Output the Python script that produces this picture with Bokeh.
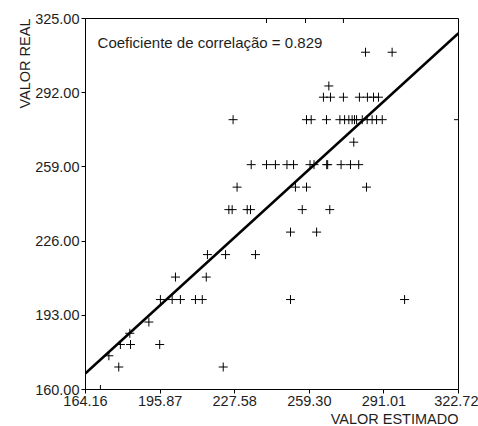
from bokeh.plotting import figure
from bokeh.models import FixedTicker, Label, Range1d, NumeralTickFormatter, Title
from bokeh.embed import file_html
from bokeh.resources import INLINE

# ---- data ----
x_ticks = [164.16, 195.87, 227.58, 259.30, 291.01, 322.72]
y_ticks = [160.0, 193.0, 226.0, 259.0, 292.0, 325.0]

valor_estimado = [
    283.2, 294.5,
    267.6,
    265.3, 268.3, 273.8, 280.6, 284.0, 286.6, 288.7,
    226.9, 258.1, 260.1, 266.6, 272.3, 274.3, 276.1, 277.5, 278.5, 279.4,
    281.8, 283.9, 286.0, 287.9, 290.3, 322.72,
    278.2,
    234.6, 241.1, 244.9, 249.8, 252.6, 259.6, 261.3, 266.7, 267.1, 272.8, 276.8, 280.3,
    228.6, 253.4, 258.1, 283.6,
    225.1, 226.5, 232.9, 234.3, 256.3, 268.0,
    251.3, 262.4,
    216.0, 223.7, 236.4,
    202.4, 215.5,
    196.0, 201.0, 204.5, 210.9, 213.8, 251.3, 299.8,
    191.1,
    183.0,
    179.0, 183.3, 195.7,
    174.1,
    178.3, 222.7,
    170.5,
    241.1, 257.7, 273.8,
]
valor_real = [
    310, 310,
    295,
    290, 290, 290, 290, 290, 290, 290,
    280, 280, 280, 280, 280, 280, 280, 280, 280, 280,
    280, 280, 280, 280, 280, 280,
    270,
    260, 260, 260, 260, 260, 260, 260, 260, 260, 260, 260, 260,
    250, 250, 250, 250,
    240, 240, 240, 240, 240, 240,
    230, 230,
    220, 220, 220,
    210, 210,
    200, 200, 200, 200, 200, 200, 200,
    190,
    185,
    180, 180, 180,
    175,
    170, 170,
    160,
    325, 325, 325,
]

# fitted regression line
reg_x = [164.16, 322.72]
reg_y = [167.2, 318.5]

title_text = "Coeficiente de correlação = 0.829"
x_title = "VALOR ESTIMADO"
y_title = "VALOR REAL"

FONT = "Liberation Sans"
TXT = "#1e1e1e"

p = figure(
    width=478, height=426,
    x_range=Range1d(x_ticks[0], x_ticks[-1]),
    y_range=Range1d(y_ticks[0], y_ticks[-1]),
    min_border_left=85, min_border_right=20, min_border_top=18, min_border_bottom=35,
    output_backend="svg", toolbar_location=None,
)
p.grid.visible = False
p.outline_line_color = "black"
p.outline_line_width = 1
p.outline_line_alpha = 1.0
p.background_fill_color = "white"
p.border_fill_color = "white"

p.xaxis.ticker = FixedTicker(ticks=x_ticks)
p.yaxis.ticker = FixedTicker(ticks=y_ticks)
for ax in (p.xaxis[0], p.yaxis[0]):
    ax.formatter = NumeralTickFormatter(format="0.00")
    ax.minor_tick_line_color = None
    ax.major_tick_out = 4
    ax.major_tick_in = 0
    ax.major_tick_line_color = "black"
    ax.axis_line_color = "black"
    ax.major_label_standoff = 2
    ax.major_label_text_font = FONT
    ax.major_label_text_font_size = "14.5px"
    ax.major_label_text_color = TXT

p.line(reg_x, reg_y, line_width=2.6, line_color="black")
p.scatter(valor_estimado, valor_real, marker="cross", size=9,
          line_color="black", line_width=1)

p.add_layout(Label(x=169.3, y=314.4, text=title_text, text_font=FONT,
                   text_font_size="15px", text_color=TXT, text_baseline="middle"))

p.add_layout(Title(text=x_title, align="right", text_font=FONT,
                   text_font_size="14.5px", text_font_style="normal",
                   text_color=TXT, standoff=0, offset=0), "below")
p.add_layout(Title(text=y_title, align="right", text_font=FONT,
                   text_font_size="14.5px", text_font_style="normal",
                   text_color=TXT, standoff=0, offset=0), "left")

open("out.html", "w").write(file_html(p, INLINE))
